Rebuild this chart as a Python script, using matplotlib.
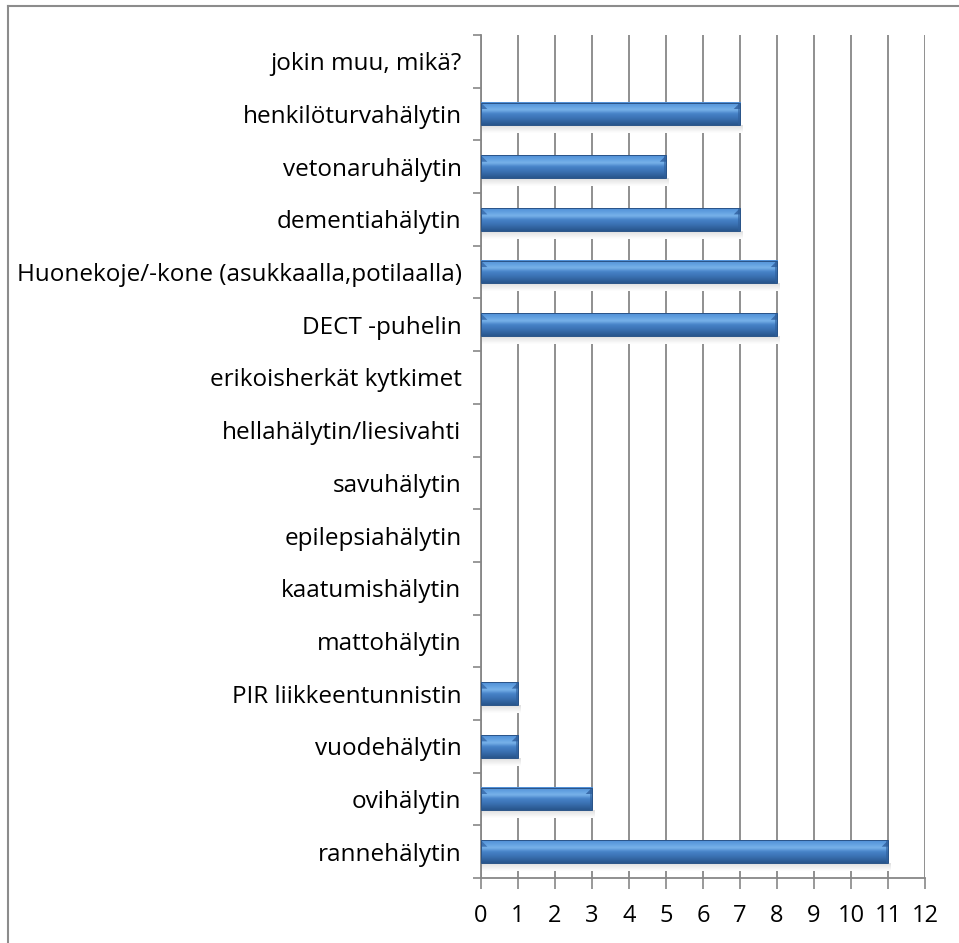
import matplotlib.pyplot as plt
import numpy as np
from matplotlib.colors import LinearSegmentedColormap
from matplotlib.patches import Rectangle, Polygon

categories = ["rannehälytin", "ovihälytin", "vuodehälytin", "PIR liikkeentunnistin",
              "mattohälytin", "kaatumishälytin", "epilepsiahälytin", "savuhälytin",
              "hellahälytin/liesivahti", "erikoisherkät kytkimet", "DECT -puhelin",
              "Huonekoje/-kone (asukkaalla,potilaalla)", "dementiahälytin",
              "vetonaruhälytin", "henkilöturvahälytin", "jokin muu, mikä?"]
values = [11, 3, 1, 1, 0, 0, 0, 0, 0, 0, 8, 8, 7, 5, 7, 0]
x_ticks = list(range(0, 13))

plt.rcParams['font.family'] = ['Open Sans', 'DejaVu Sans']

fig = plt.figure(figsize=(9.59, 9.43), dpi=100)
ax = fig.add_axes([0.5016, 0.0689, 0.4630, 0.894])

# bar shading from bottom to top: dark edge, mid blue, bright stripe, blue top
shade = LinearSegmentedColormap.from_list(
    "bar", ["#28558c", "#3366a3", "#3d75b8", "#4783c8", "#78b2ea", "#62a0e0", "#4f8fd6"])
grad = np.linspace(0, 1, 64).reshape(-1, 1)
shadow = LinearSegmentedColormap.from_list("shadow", ["#ffffff", "#dedede"])

h = 0.43
for i, v in enumerate(values):
    if v <= 0:
        continue
    y0, y1 = i - h / 2, i + h / 2
    # soft shadow under the bar
    ax.imshow(grad, cmap=shadow, aspect="auto", interpolation="bicubic",
              extent=(0.03, v + 0.08, y0 - 0.15, y0), origin="lower", zorder=2)
    ax.imshow(grad, cmap=shade, aspect="auto", interpolation="bicubic",
              extent=(0, v, y0, y1), origin="lower", zorder=3)
    # bevelled corners at both ends
    b = 0.17
    ax.add_patch(Polygon([(0, y1), (b, y1 - 0.12), (0, y1 - 0.12)],
                         closed=True, facecolor="#3f74b4", edgecolor="none", zorder=4))
    ax.add_patch(Polygon([(v, y1), (v - b, y1 - 0.12), (v, y1 - 0.12)],
                         closed=True, facecolor="#3a6cab", edgecolor="none", zorder=4))
    ax.add_patch(Rectangle((v - 0.05, y0), 0.05, h, facecolor="#2f5f9b",
                           edgecolor="none", alpha=0.6, zorder=4))
    ax.add_patch(Rectangle((0, y0), v, h, facecolor="none",
                           edgecolor="#2a5488", linewidth=0.7, zorder=5))

ax.set_xlim(0, 12)
ax.set_ylim(-0.5, len(categories) - 0.5)
ax.set_xticks(x_ticks)
ax.set_xticklabels([str(t) for t in x_ticks], fontsize=17)
ax.set_yticks(range(len(categories)))
ax.set_yticklabels(categories, fontsize=17.5)
ax.set_yticks(np.arange(-0.5, len(categories), 1), minor=True)
ax.tick_params(axis="y", which="major", length=0, pad=14)
ax.tick_params(axis="y", which="minor", length=6, color="#878787", width=1.2)
ax.tick_params(axis="x", length=8, color="#878787", width=1.2, pad=11)

ax.grid(axis="x", color="#878787", linewidth=1.3, zorder=1)
ax.set_axisbelow(True)
for s in ["top", "right"]:
    ax.spines[s].set_visible(False)
ax.spines["left"].set_color("#878787")
ax.spines["bottom"].set_color("#878787")
ax.spines["left"].set_linewidth(1.3)
ax.spines["bottom"].set_linewidth(1.3)

# chart area frame
fig.add_artist(plt.Line2D([0.0085, 0.0085], [0, 0.9936], color="#8c8c8c",
                          linewidth=1.5, transform=fig.transFigure))
fig.add_artist(plt.Line2D([0.0085, 1], [0.9936, 0.9936], color="#8c8c8c",
                          linewidth=1.5, transform=fig.transFigure))

fig.savefig("out.png", dpi=100)
